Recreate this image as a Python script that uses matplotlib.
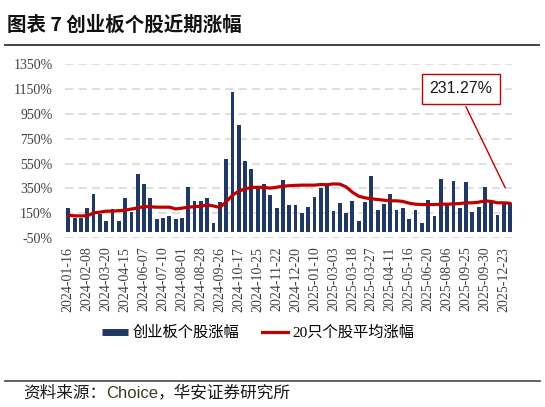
import numpy as np
import matplotlib
matplotlib.use('Agg')
import matplotlib.pyplot as plt
from matplotlib.lines import Line2D

plt.rcParams['font.family'] = ['Liberation Serif', 'Noto Sans CJK SC', 'DejaVu Sans']

# 创业板个股涨幅 (%)
stock_gain = [190, 114, 114, 190, 302, 149, 88, 184, 88, 272,
              162, 470, 385, 270, 104, 117, 130, 104, 112, 358,
              246, 246, 270, 69, 238, 583, 1123, 858, 572, 503,
              350, 390, 296, 194, 422, 216, 221, 154, 205, 278,
              355, 379, 170, 232, 154, 246, 85, 238, 451, 181,
              226, 302, 181, 194, 109, 176, 74, 256, 130, 425,
              221, 414, 194, 403, 165, 202, 363, 230, 138, 224,
              230]
# 20只个股平均涨幅 (%)
avg20_gain = [136, 130, 130, 130, 154, 160, 168, 168, 172, 176,
              185, 194, 205, 203, 200, 200, 200, 186, 192, 200,
              204, 208, 218, 210, 197, 243, 296, 328, 347, 358,
              360, 359, 353, 360, 369, 372, 375, 377, 377, 377,
              382, 380, 387, 385, 363, 320, 288, 275, 267, 262,
              256, 251, 251, 246, 232, 224, 221, 221, 221, 224,
              224, 226, 229, 235, 235, 240, 251, 246, 235, 235,
              231.27]
tick_labels = ['2024-01-16', '2024-02-08', '2024-03-20', '2024-04-15',
               '2024-06-07', '2024-07-10', '2024-08-01', '2024-08-28',
               '2024-09-26', '2024-10-17', '2024-10-25', '2024-11-22',
               '2024-12-20', '2025-01-10', '2025-03-03', '2025-03-18',
               '2025-03-27', '2025-04-11', '2025-05-16', '2025-06-20',
               '2025-08-06', '2025-09-25', '2025-09-30', '2025-12-23']
y_ticks = [-50, 150, 350, 550, 750, 950, 1150, 1350]

navy = '#1f3864'
red = '#c00000'

fig = plt.figure(figsize=(5.45, 4.07), dpi=100)
ax = fig.add_axes([0.1193, 0.4145, 0.820, 0.4283])

x = np.arange(len(stock_gain))
ax.bar(x, stock_gain, width=0.6, color=navy, zorder=2)
ax.plot(x, avg20_gain, color=red, lw=2.3, zorder=3, solid_capstyle='round')

ax.set_xlim(-0.52, len(stock_gain) - 0.73)
ax.set_ylim(-50, 1350)
ax.set_yticks(y_ticks)
ax.set_yticklabels([f'{v}%' for v in y_ticks])
ax.set_xticks(x[::3])
ax.set_xticklabels(tick_labels, rotation=90)
ax.tick_params(axis='both', length=0, labelsize=10, labelcolor='#404040')
ax.tick_params(axis='y', pad=9)
ax.tick_params(axis='x', pad=6)
ax.grid(axis='y', color='#d9d9d9', lw=1.2, linestyle=(0, (5, 3)), zorder=0)
for s in ax.spines.values():
    s.set_visible(False)

ax.annotate('231.27%', xy=(69.4, 335), xytext=(62.2, 1150), textcoords='data',
            ha='center', va='center', fontsize=11.5, family=['Liberation Sans'],
            color='#1a1a1a',
            bbox=dict(boxstyle='square,pad=0.45', fc='white', ec=red, lw=1.0),
            arrowprops=dict(arrowstyle='-', color=red, lw=1.0, relpos=(0.5, 0)),
            zorder=5)

handles = [Line2D([], [], color=navy, lw=5, solid_capstyle='butt'),
           Line2D([], [], color=red, lw=2.3)]
fig.legend(handles, ['创业板个股涨幅', '20只个股平均涨幅'], loc='center',
           bbox_to_anchor=(0.474, 0.1818), ncol=2, frameon=False,
           fontsize=11, handlelength=1.7, handletextpad=0.3, columnspacing=1.5)

# title and rules
fig.text(0.013, 1 - 25 / 407, '图表 7 创业板个股近期涨幅', fontsize=14, fontweight='bold',
         family=['Noto Sans CJK SC'], va='center', ha='left', color='#111111')
fig.add_artist(Line2D([0.009, 0.989], [1 - 45 / 407] * 2, color='#333333', lw=1.3))
fig.add_artist(Line2D([0.009, 0.991], [1 - 381 / 407] * 2, color='#555555', lw=1.3))

t1 = fig.text(23 / 545, 1 - 393 / 407, '资料来源：', fontsize=12,
              family=['Noto Sans CJK SC'], va='center', ha='left', color='#1a1a1a')
t2 = fig.text(0, 0, 'Choice', fontsize=12, family=['Liberation Sans'], color='#3d3a22',
              va='bottom', ha='left')
fig.canvas.draw()
r = fig.canvas.get_renderer()
bb1 = t1.get_window_extent(r)
t2.set_position((bb1.x1 / fig.bbox.width, 1 - 393 / 407))
t2.set_va('center')
fig.canvas.draw()
bb2 = t2.get_window_extent(r)
fig.text(bb2.x1 / fig.bbox.width, 1 - 393 / 407, '，华安证券研究所', fontsize=12,
         family=['Noto Sans CJK SC'], va='center', ha='left', color='#1a1a1a')

fig.savefig('out.png', dpi=100)
